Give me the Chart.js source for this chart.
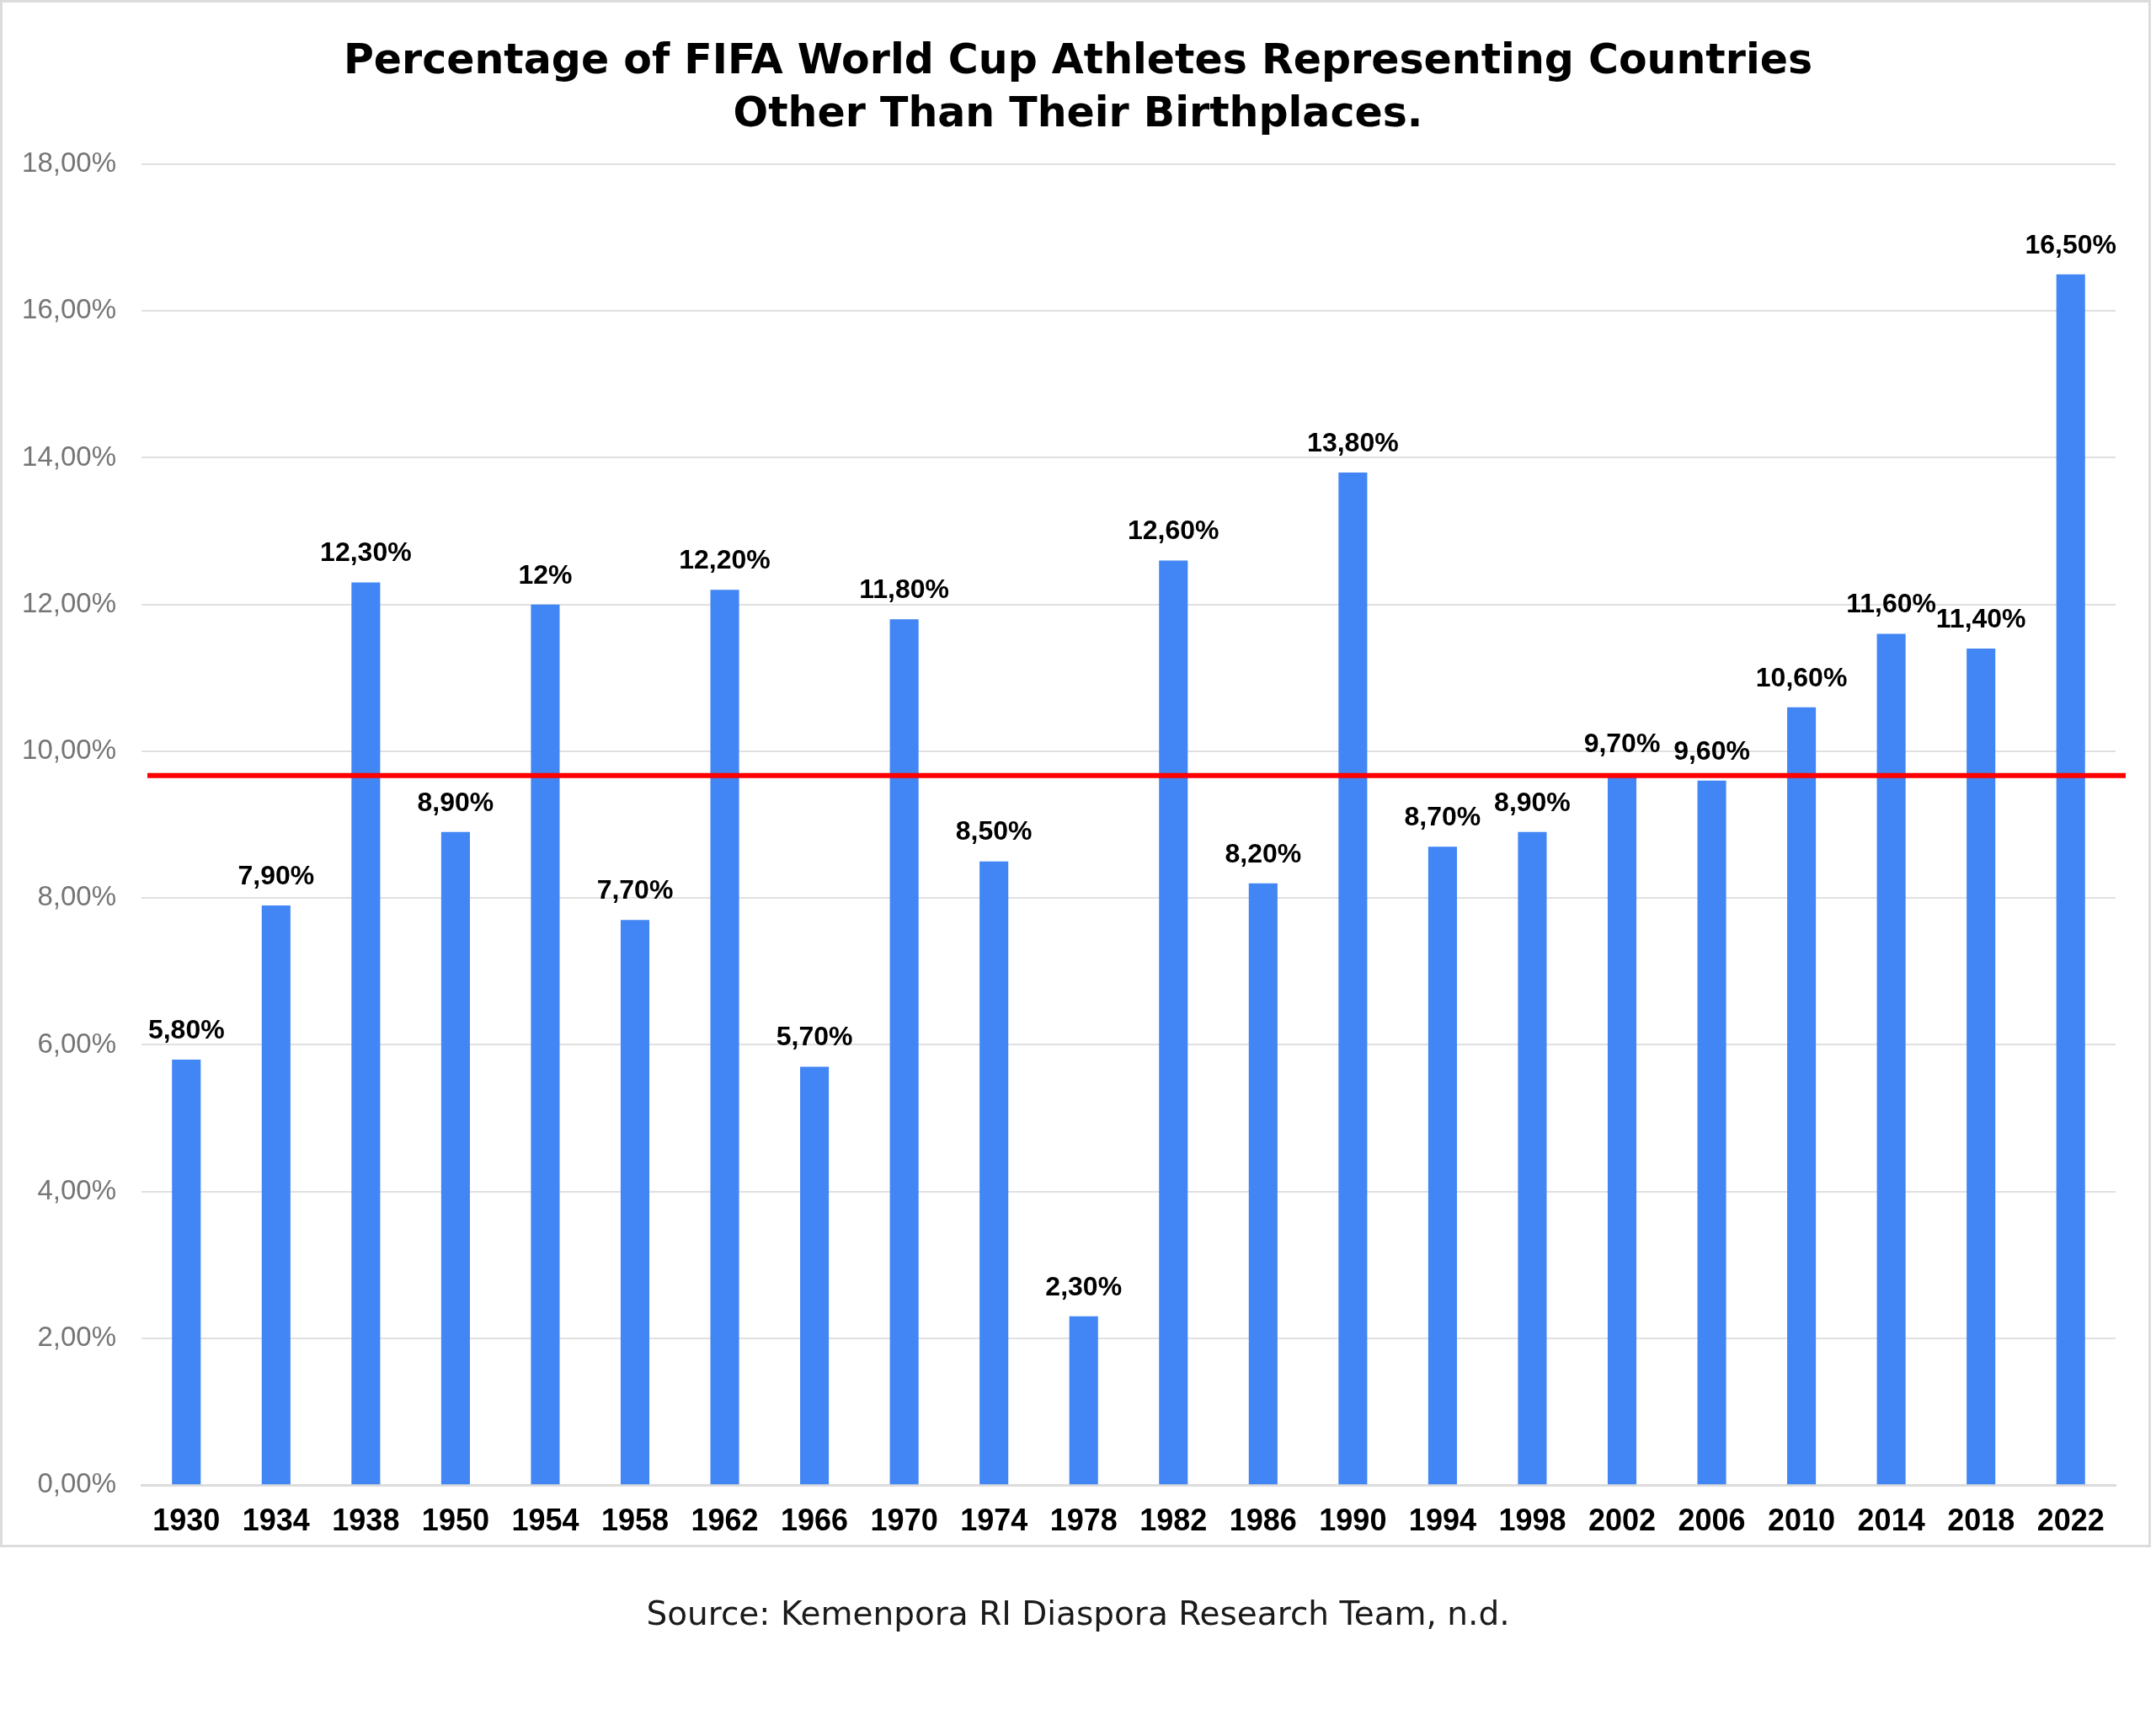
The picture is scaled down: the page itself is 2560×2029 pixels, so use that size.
<!DOCTYPE html>
<html>
<head>
<meta charset="utf-8">
<title>FIFA World Cup athletes</title>
<script src="https://cdn.jsdelivr.net/npm/chart.js@4.4.1/dist/chart.umd.min.js"></script>
<style>
    html, body { margin: 0; padding: 0; background: #ffffff; }
    #chart { display: block; }
</style>
</head>
<body>
<canvas id="chart" width="2560" height="2029"></canvas>
<script>
const years = ['1930', '1934', '1938', '1950', '1954', '1958', '1962', '1966', '1970', '1974', '1978',
    '1982', '1986', '1990', '1994', '1998', '2002', '2006', '2010', '2014', '2018', '2022'];
const percentages = [5.8, 7.9, 12.3, 8.9, 12, 7.7, 12.2, 5.7, 11.8, 8.5, 2.3,
    12.6, 8.2, 13.8, 8.7, 8.9, 9.7, 9.6, 10.6, 11.6, 11.4, 16.5];
const referenceLine = 9.67;
const titleLines = ['Percentage of FIFA World Cup Athletes Representing Countries', 'Other Than Their Birthplaces.'];
const sourceText = 'Source: Kemenpora RI Diaspora Research Team, n.d.';

function formatPercent(v) {
    if (Number.isInteger(v)) return v + '%';
    return v.toFixed(2).replace('.', ',') + '%';
}

// white background + thin frame of the original chart box
const framePlugin = {
    id: 'frame',
    beforeDraw(chart) {
        const ctx = chart.ctx;
        ctx.save();
        ctx.fillStyle = '#ffffff';
        ctx.fillRect(0, 0, chart.width, chart.height);
        ctx.strokeStyle = '#dcdcdc';
        ctx.lineWidth = 3;
        ctx.strokeRect(1.5, 1.5, 2551, 1834);
        ctx.restore();
    }
};

// red reference line and value labels over the bars
const overlayPlugin = {
    id: 'overlay',
    afterDatasetsDraw(chart) {
        const ctx = chart.ctx;
        const area = chart.chartArea;
        const y = chart.scales.y.getPixelForValue(referenceLine);
        ctx.save();
        ctx.strokeStyle = '#ff0000';
        ctx.lineWidth = 6;
        ctx.beginPath();
        ctx.moveTo(area.left + 7, y);
        ctx.lineTo(area.right + 12, y);
        ctx.stroke();

        ctx.fillStyle = '#000000';
        ctx.font = 'bold 32px "Liberation Sans", Arial, sans-serif';
        ctx.textAlign = 'center';
        ctx.textBaseline = 'middle';
        chart.getDatasetMeta(0).data.forEach((bar, i) => {
            ctx.fillText(formatPercent(percentages[i]), bar.x, bar.y - 34);
        });
        ctx.restore();
    }
};

const ctx = document.getElementById('chart').getContext('2d');
new Chart(ctx, {
    type: 'bar',
    data: {
        labels: years,
        datasets: [{
            label: 'Percentage',
            data: percentages,
            backgroundColor: '#4285f4',
            borderWidth: 0,
            barPercentage: 0.32,
            categoryPercentage: 1
        }]
    },
    options: {
        responsive: false,
        animation: false,
        devicePixelRatio: 1,
        layout: {
            padding: 0
        },
        plugins: {
            legend: { display: false },
            tooltip: { enabled: false },
            title: {
                display: true,
                text: titleLines,
                color: '#000000',
                font: { family: '"DejaVu Sans", sans-serif', size: 49, weight: 'bold', lineHeight: 63 / 49 },
                padding: { top: 43, bottom: 26 }
            },
            subtitle: {
                display: true,
                position: 'bottom',
                text: sourceText,
                color: '#1a1a1a',
                font: { family: '"DejaVu Sans", sans-serif', size: 39, weight: 'normal', lineHeight: 1.2 },
                padding: { top: 0, bottom: 87 }
            }
        },
        scales: {
            x: {
                grid: { display: false, drawTicks: false },
                border: { display: true, color: '#dcdcdc', width: 3 },
                ticks: {
                    color: '#000000',
                    padding: 22,
                    maxRotation: 0,
                    autoSkip: false,
                    font: { family: '"Liberation Sans", Arial, sans-serif', size: 36, weight: 'bold' }
                },
                afterFit(axis) { axis.height = 132; }
            },
            y: {
                min: 0,
                max: 18,
                grid: { color: '#e0e0e0', lineWidth: 2, drawTicks: false },
                border: { display: false },
                ticks: {
                    stepSize: 2,
                    color: '#757575',
                    padding: 30,
                    font: { family: '"Liberation Sans", Arial, sans-serif', size: 33 },
                    callback: value => value.toFixed(2).replace('.', ',') + '%'
                },
                afterFit(axis) { axis.width = 168; }
            },
            // empty right-hand margin so the title stays centred on the page
            yRight: {
                type: 'linear',
                position: 'right',
                grid: { display: false, drawTicks: false },
                border: { display: false },
                ticks: { display: false },
                afterFit(axis) { axis.width = 48; }
            }
        }
    },
    plugins: [framePlugin, overlayPlugin]
});
</script>
</body>
</html>
